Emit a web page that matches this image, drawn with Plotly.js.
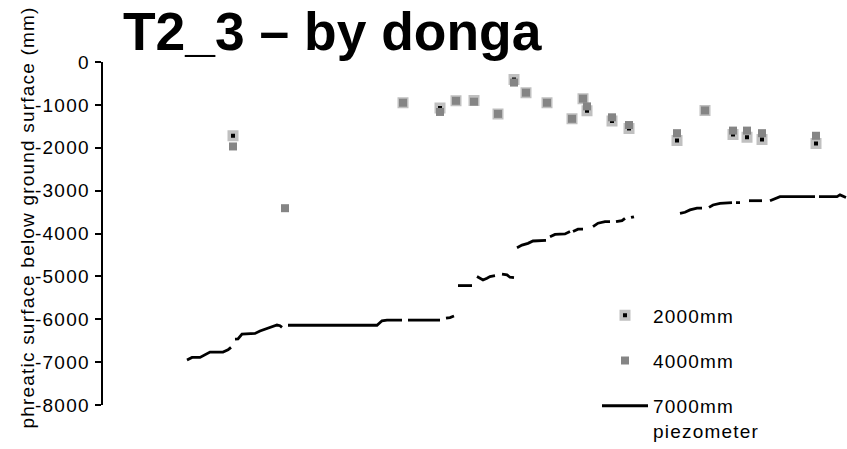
<!DOCTYPE html>
<html><head><meta charset="utf-8">
<script src="https://cdn.plot.ly/plotly-3.0.1.min.js"></script>
<style>
html,body{margin:0;padding:0;background:#fff;}
#chart{width:847px;height:449px;}
text{letter-spacing:1.2px;}
.gtitle{letter-spacing:normal !important;}
</style></head><body><div id="chart"></div>
<script>
// sampling days (relative day index along the hidden time axis)
const sampleDay = [130, 182, 300, 337, 353, 371, 395, 411, 423, 444, 469, 480, 484, 509, 526, 574, 602, 630, 644, 659, 713];
const depth2000 = [-1720, null, -950, -1075, -905, -900, -1210, -410, -715, -950, -1325, -855, -1135, -1375, -1550, -1830, -1130, -1690, -1755, -1805, -1900];
const depth4000 = [-1970, -3410, -950, -1165, -905, -925, -1210, -480, -715, -950, -1325, -855, -1035, -1290, -1470, -1660, -1130, -1600, -1600, -1660, -1720];

// 7000mm piezometer logger record (null = no data)
const pzDay = [84,89,97,102,107,120,125,128, null,
  132,135,139,152,157,164,169,174,177,179, null,
  185,274,279,284,299, null,
  305,337, null,
  343,347,351, null,
  355,369, null,
  374,380,384,387,392, null,
  399,404,407,411, null,
  414,419,425,430,443, null,
  447,452,462,467, null,
  470,475,480, null,
  490,495,502,507, null,
  513,519,522, null,
  528,531, null,
  577,582,587,594,599, null,
  606,610,617,629, null,
  633,637, null,
  646,659, null,
  667,672,677,712, null,
  716,734,737,740,743];
const pzDepth = [-6950,-6890,-6890,-6820,-6765,-6765,-6715,-6655, null,
  -6465,-6460,-6345,-6330,-6275,-6210,-6175,-6135,-6150,-6190, null,
  -6140,-6140,-6035,-6020,-6020, null,
  -6020,-6020, null,
  -5975,-5960,-5925, null,
  -5215,-5215, null,
  -5005,-5085,-5045,-5005,-4985, null,
  -4950,-4965,-5020,-5030, null,
  -4330,-4270,-4230,-4175,-4160, null,
  -4075,-4020,-4010,-3955, null,
  -3955,-3900,-3900, null,
  -3840,-3760,-3725,-3725, null,
  -3725,-3700,-3645, null,
  -3625,-3610, null,
  -3530,-3505,-3450,-3410,-3410, null,
  -3390,-3335,-3295,-3280, null,
  -3280,-3280, null,
  -3235,-3235, null,
  -3235,-3195,-3140,-3140, null,
  -3140,-3140,-3100,-3140,-3160];

const yTickVals = [0, -1000, -2000, -3000, -4000, -5000, -6000, -7000, -8000];
const yTickText = ["0", "-1000", "-2000", "-3000", "-4000", "-5000", "-6000", "-7000", "-8000"];
const seriesNames = ["2000mm", "4000mm", "7000mm<br>piezometer"];

const FONT = 'Liberation Sans, Arial, sans-serif';

const traces = [
  {type:'scatter', mode:'markers', x:sampleDay, y:depth2000, name:seriesNames[0], legendgroup:'a',
   marker:{symbol:'square', size:7.5, color:'#000', line:{color:'#c0c0c0', width:3.5}}},
  {type:'scatter', mode:'markers', x:sampleDay, y:depth4000, name:seriesNames[1], legendgroup:'b',
   marker:{symbol:'square', size:8, color:'#858585', line:{width:0}}},
  {type:'scatter', mode:'lines', x:pzDay, y:pzDepth, name:seriesNames[2], legendgroup:'c',
   connectgaps:false, line:{color:'#000', width:2.8}}
];

const layout = {
  width:847, height:449,
  margin:{l:103, r:0, t:62, b:44, pad:0, autoexpand:false},
  paper_bgcolor:'#fff', plot_bgcolor:'#fff',
  font:{family:FONT, size:19, color:'#000'},
  title:{text:'T2_3 – by donga', font:{family:FONT, size:53.4, weight:'bold', color:'#000'},
         x:123/847, xref:'container', xanchor:'left', y:1-31.3/449, yref:'container', yanchor:'middle'},
  xaxis:{range:[0,744], visible:false},
  yaxis:{range:[-8000,0], tickmode:'array', tickvals:yTickVals, ticktext:yTickText,
         showline:true, linewidth:2.5, linecolor:'#000', ticks:'outside', ticklen:6, tickwidth:2, tickcolor:'#000',
         showgrid:false, zeroline:false, ticklabelstandoff:1, tickfont:{family:FONT, size:19, color:'#000'}},
  showlegend:true,
  legend:{xref:'container', yref:'container', x:597/847, y:1-296.3/449, xanchor:'left', yanchor:'top', bgcolor:'rgba(0,0,0,0)',
          font:{family:FONT, size:19, color:'#000'}, traceorder:'grouped', tracegroupgap:17.6, valign:'top', itemwidth:46},
  annotations:[{text:'phreatic surface below ground surface (mm)', textangle:-90, xref:'paper', yref:'paper',
                x:(27-103)/744, y:(405-217.5)/343, xanchor:'center', yanchor:'middle', showarrow:false,
                font:{family:FONT, size:19, color:'#000'}}]
};

Plotly.newPlot('chart', traces, layout, {staticPlot:true, displayModeBar:false});
</script></body></html>
